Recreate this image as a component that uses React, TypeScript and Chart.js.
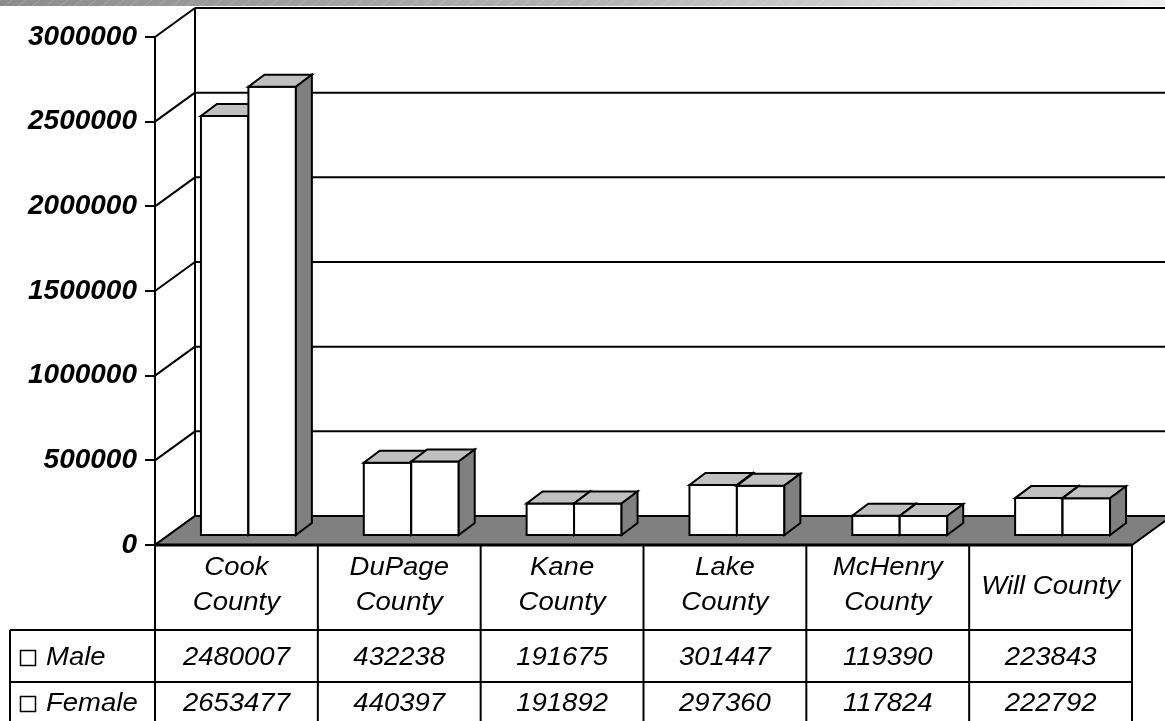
import React, { useEffect, useRef } from "react";
import { Chart, registerables } from "chart.js";

Chart.register(...registerables);

// ---- data ----
const categoryLines: string[][] = [
  ["Cook", "County"],
  ["DuPage", "County"],
  ["Kane", "County"],
  ["Lake", "County"],
  ["McHenry", "County"],
  ["Will County"],
];
const categories = categoryLines.map((l) => l.join(" "));
const seriesNames = ["Male", "Female"];
const maleValues = [2480007, 432238, 191675, 301447, 119390, 223843];
const femaleValues = [2653477, 440397, 191892, 297360, 117824, 222792];
const yMax = 3000000;
const yStep = 500000;

// ---- styling ----
const FONT = "'Liberation Sans', Arial, Helvetica, sans-serif";
const WALL = { dx: 40, dy: -29 };
const BAR_OFF = { dx: 12, dy: -9 };
const BAR_DEPTH = { dx: 16, dy: -12 };
const TEXT_STRETCH = 1.1;

function line(ctx: CanvasRenderingContext2D, x1: number, y1: number, x2: number, y2: number) {
  ctx.beginPath();
  ctx.moveTo(x1, y1);
  ctx.lineTo(x2, y2);
  ctx.stroke();
}

function poly(ctx: CanvasRenderingContext2D, pts: number[][], fill: string) {
  ctx.beginPath();
  ctx.moveTo(pts[0][0], pts[0][1]);
  for (let i = 1; i < pts.length; i++) ctx.lineTo(pts[i][0], pts[i][1]);
  ctx.closePath();
  ctx.fillStyle = fill;
  ctx.fill();
  ctx.stroke();
}

function stretchText(ctx: CanvasRenderingContext2D, text: string, x: number, y: number) {
  ctx.save();
  ctx.translate(x, y);
  ctx.scale(TEXT_STRETCH, 1);
  ctx.fillText(text, 0, 0);
  ctx.restore();
}

const excel3d = {
  id: "excel3d",
  beforeDraw(chart: any) {
    const { ctx, chartArea: ca } = chart;
    const y = chart.scales.y;
    const W = chart.width;
    ctx.save();
    ctx.fillStyle = "#ffffff";
    ctx.fillRect(0, 0, W, chart.height);

    // top decorative stripe
    const g = ctx.createLinearGradient(0, 0, W, 0);
    g.addColorStop(0, "#8c8c8c");
    g.addColorStop(0.5, "#b2b2b2");
    g.addColorStop(1, "#eeeeee");
    ctx.fillStyle = g;
    ctx.fillRect(0, 0, W, 6);
    ctx.strokeStyle = "rgba(255,255,255,0.18)";
    ctx.lineWidth = 1;
    for (let x = -10; x < W; x += 14) line(ctx, x, 6, x + 8, 0);

    const yTop = y.getPixelForValue(yMax);
    const yZero = y.getPixelForValue(0);
    ctx.strokeStyle = "#000";
    ctx.lineWidth = 2;
    // back wall grid lines and left wall diagonals
    y.ticks.forEach((t: any) => {
      const py = y.getPixelForValue(t.value);
      if (t.value !== 0) line(ctx, ca.left + WALL.dx, py + WALL.dy, W + 10, py + WALL.dy);
      line(ctx, ca.left, py, ca.left + WALL.dx, py + WALL.dy);
    });
    line(ctx, ca.left + WALL.dx, yTop + WALL.dy, ca.left + WALL.dx, yZero + WALL.dy);

    // floor
    poly(
      ctx,
      [
        [ca.left, yZero],
        [ca.right, yZero],
        [ca.right + WALL.dx, yZero + WALL.dy],
        [ca.left + WALL.dx, yZero + WALL.dy],
      ],
      "#808080"
    );
    ctx.restore();
  },
  afterDatasetsDraw(chart: any) {
    const { ctx } = chart;
    ctx.save();
    ctx.strokeStyle = "#000";
    ctx.lineWidth = 2;
    ctx.lineJoin = "miter";
    const metas = chart.data.datasets.map((_: any, i: number) => chart.getDatasetMeta(i));
    for (let c = 0; c < categories.length; c++) {
      metas.forEach((meta: any) => {
        const el = meta.data[c];
        const p = el.getProps(["x", "y", "base", "width"], true);
        const x0 = p.x - p.width / 2 + BAR_OFF.dx;
        const x1 = p.x + p.width / 2 + BAR_OFF.dx;
        const yt = p.y + BAR_OFF.dy;
        const yb = p.base + BAR_OFF.dy;
        const dx = BAR_DEPTH.dx;
        const dy = BAR_DEPTH.dy;
        poly(ctx, [[x0, yt], [x1, yt], [x1, yb], [x0, yb]], "#ffffff");
        poly(ctx, [[x0, yt], [x1, yt], [x1 + dx, yt + dy], [x0 + dx, yt + dy]], "#c0c0c0");
        poly(ctx, [[x1, yt], [x1 + dx, yt + dy], [x1 + dx, yb + dy], [x1, yb]], "#808080");
      });
    }
    ctx.restore();
  },
  afterDraw(chart: any) {
    const { ctx, chartArea: ca } = chart;
    const y = chart.scales.y;
    const H = chart.height;
    const yZero = y.getPixelForValue(0);
    const n = categories.length;
    const colW = (ca.right - ca.left) / n;
    const row1 = yZero + 85;
    const row2 = row1 + 52;
    const legendLeft = 10;

    ctx.save();
    ctx.strokeStyle = "#000";
    ctx.lineWidth = 2;
    for (let i = 0; i <= n; i++) {
      const x = ca.left + i * colW;
      line(ctx, x, yZero, x, H + 2);
    }
    line(ctx, legendLeft, row1, legendLeft, H + 2);
    line(ctx, legendLeft, row1, ca.right, row1);
    line(ctx, legendLeft, row2, ca.right, row2);
    ctx.lineWidth = 3;
    line(ctx, ca.left, yZero, ca.right, yZero);

    ctx.fillStyle = "#000";
    ctx.textAlign = "center";
    ctx.textBaseline = "alphabetic";
    ctx.font = `italic 25px ${FONT}`;
    categoryLines.forEach((lines, i) => {
      const cx = ca.left + (i + 0.5) * colW;
      if (lines.length === 1) {
        stretchText(ctx, lines[0], cx, yZero + 49);
      } else {
        stretchText(ctx, lines[0], cx, yZero + 30);
        stretchText(ctx, lines[1], cx, yZero + 65);
      }
      stretchText(ctx, String(maleValues[i]), cx, row1 + 35);
      stretchText(ctx, String(femaleValues[i]), cx, row2 + 29);
    });

    // legend keys
    ctx.textAlign = "left";
    ctx.lineWidth = 1.5;
    const rowsBase = [row1 + 35, row2 + 29];
    seriesNames.forEach((name, k) => {
      const base = rowsBase[k];
      ctx.fillStyle = "#ffffff";
      ctx.fillRect(20.5, base - 14.5, 15, 15);
      ctx.strokeRect(20.5, base - 14.5, 15, 15);
      ctx.fillStyle = "#000";
      stretchText(ctx, name, 46, base);
    });
    ctx.restore();
  },
};

export default function App() {
  const ref = useRef<HTMLCanvasElement | null>(null);

  useEffect(() => {
    if (!ref.current) return;
    const chart = new Chart(ref.current, {
      type: "bar",
      data: {
        labels: categories,
        datasets: [
          {
            label: seriesNames[0],
            data: maleValues,
            backgroundColor: "rgba(0,0,0,0)",
            borderWidth: 0,
          },
          {
            label: seriesNames[1],
            data: femaleValues,
            backgroundColor: "rgba(0,0,0,0)",
            borderWidth: 0,
          },
        ],
      },
      options: {
        responsive: false,
        animation: false,
        devicePixelRatio: 1,
        layout: { padding: { left: 0, top: 37, right: 33, bottom: 176 } },
        categoryPercentage: 0.583,
        barPercentage: 1,
        plugins: {
          legend: { display: false },
          tooltip: { enabled: false },
          title: { display: false },
        },
        scales: {
          x: { display: false },
          y: {
            min: 0,
            max: yMax,
            afterFit: (s: any) => {
              s.width = 155;
            },
            ticks: {
              stepSize: yStep,
              padding: 8,
              color: "#000",
              font: { family: FONT, size: 28, weight: "bold", style: "italic" },
              callback: (v: any) => String(v),
            },
            grid: {
              display: true,
              drawOnChartArea: false,
              drawTicks: true,
              tickLength: 10,
              color: "#000",
              lineWidth: 2,
            },
            border: { display: true, color: "#000", width: 2 },
          },
        },
      } as any,
      plugins: [excel3d],
    });
    return () => chart.destroy();
  }, []);

  return (
    <div style={{ position: "absolute", left: 0, top: 0, width: 1165, height: 721, background: "#fff" }}>
      <canvas ref={ref} width={1165} height={721} style={{ display: "block" }} />
    </div>
  );
}
